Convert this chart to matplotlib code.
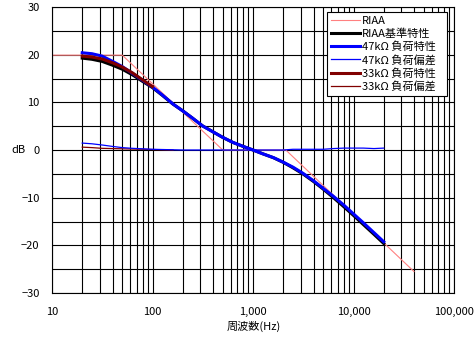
import numpy as np
import matplotlib
matplotlib.use('Agg')
import matplotlib.pyplot as plt
from matplotlib.ticker import FuncFormatter, FixedLocator, LogLocator

plt.rcParams['font.family'] = ['Noto Sans CJK JP', 'DejaVu Sans']

# RIAA asymptote (straight-line)
asym_freq = [10, 50, 500, 2120, 40000]
asym_db = [19.9, 19.9, 0.0, 0.0, -25.5]

# measured frequencies
freq = [20, 25, 31.5, 40, 50, 63, 80, 100, 125, 160, 200, 250, 315, 400, 500,
        630, 800, 1000, 1250, 1600, 2000, 2500, 3150, 4000, 5000, 6300, 8000,
        10000, 12500, 16000, 20000]

riaa_ref = [19.27, 19.03, 18.59, 17.79, 16.95, 15.78, 14.37, 13.09, 11.48, 9.62,
            8.22, 6.68, 5.06, 3.81, 2.64, 1.59, 0.74, 0.0, -0.79, -1.63, -2.59,
            -3.74, -5.04, -6.61, -8.21, -9.98, -11.89, -13.73, -15.62, -17.70, -19.62]

char47 = [20.4, 20.2, 19.7, 18.6, 17.5, 16.1, 14.6, 13.2, 11.55, 9.65, 8.2, 6.7,
          5.05, 3.8, 2.65, 1.6, 0.75, 0.0, -0.8, -1.6, -2.55, -3.6, -4.9, -6.45,
          -8.05, -9.7, -11.55, -13.4, -15.25, -17.35, -19.25]

dev47 = [1.45, 1.3, 1.05, 0.75, 0.5, 0.35, 0.25, 0.15, 0.1, 0.05, 0.0, 0.0, 0.0,
         0.0, 0.0, 0.0, 0.0, 0.0, 0.0, 0.0, 0.0, 0.15, 0.15, 0.15, 0.15, 0.3,
         0.4, 0.4, 0.4, 0.3, 0.4]

freq33 = [20, 25, 31.5, 40, 50, 63, 80, 100]
char33 = [19.7, 19.5, 19.1, 18.3, 17.4, 16.2, 14.7, 13.3]

freq33d = [20, 25, 31.5, 40, 50, 63, 80, 100, 125, 160]
dev33 = [0.6, 0.5, 0.35, 0.3, 0.25, 0.2, 0.15, 0.1, 0.05, 0.0]

fig = plt.figure(figsize=(4.75, 3.46), dpi=100)
ax = fig.add_axes([52/475, 1-293/346, 402/475, 286/346])

ax.plot(asym_freq, asym_db, color='#FF8080', lw=0.8, label='RIAA', zorder=2)
ax.plot(freq, riaa_ref, color='black', lw=2.2, label='RIAA基準特性', zorder=3)
ax.plot(freq, char47, color='#0000FF', lw=2.2, label='47kΩ 負荷特性', zorder=4)
ax.plot(freq, dev47, color='#0000FF', lw=0.9, label='47kΩ 負荷偏差', zorder=6)
ax.plot(freq33, char33, color='#800000', lw=2.2, label='33kΩ 負荷特性', zorder=5)
ax.plot(freq33d, dev33, color='#800000', lw=0.9, label='33kΩ 負荷偏差', zorder=5)

ax.set_xscale('log')
ax.set_xlim(10, 100000)
ax.set_ylim(-30, 30)
ax.xaxis.set_major_locator(FixedLocator([10, 100, 1000, 10000, 100000]))
ax.xaxis.set_minor_locator(LogLocator(base=10, subs=np.arange(2, 10)))
ax.xaxis.set_major_formatter(FuncFormatter(lambda v, p: f'{int(v):,}'))
ax.xaxis.set_minor_formatter(FuncFormatter(lambda v, p: ''))
ax.set_yticks(np.arange(-30, 31, 10))
ax.set_yticks(np.arange(-25, 30, 10), minor=True)

ax.grid(True, which='both', color='black', lw=0.8)
ax.set_axisbelow(True)
ax.tick_params(which='both', length=0, labelsize=8)
ax.tick_params(axis='x', pad=10)
ax.tick_params(axis='y', pad=9)
for s in ax.spines.values():
    s.set_color('black')
    s.set_linewidth(0.8)

fig.text(18/475, 1-150/346, 'dB', ha='center', va='center', fontsize=8)
fig.text(254/475, 1-326/346, '周波数(Hz)', ha='center', va='center', fontsize=8)

leg = ax.legend(loc='upper left', bbox_to_anchor=(0.684, 0.699, 0.299, 0.283),
                mode='expand', borderaxespad=0,
                fontsize=8, handlelength=2.6, handletextpad=0.2,
                labelspacing=0.22, borderpad=0.35, fancybox=False, framealpha=1)
leg.get_frame().set_edgecolor('black')
leg.get_frame().set_linewidth(0.8)
leg.set_zorder(10)

fig.savefig('out.png', dpi=100)
